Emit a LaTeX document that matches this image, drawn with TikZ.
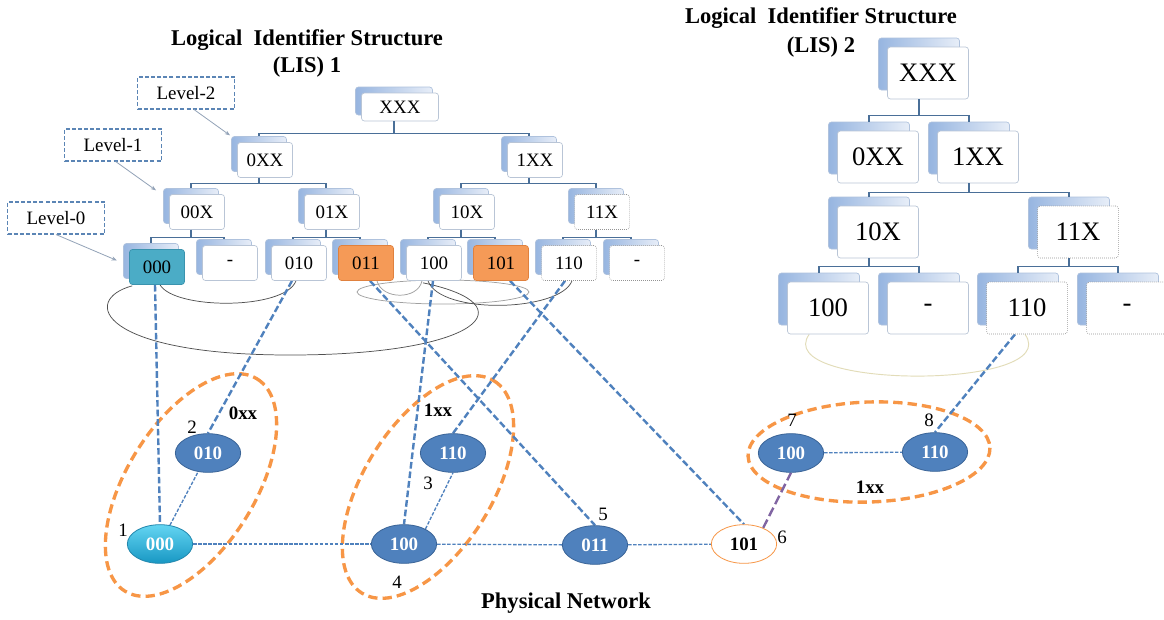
\documentclass[tikz,border=0pt]{standalone}
\usepackage{fontspec}
\setmainfont{Liberation Serif}
\usetikzlibrary{calc,shapes.geometric,arrows.meta,backgrounds}

\definecolor{cardedge}{HTML}{B9C5D6}
\definecolor{cardbackedge}{HTML}{AFC2DD}
\definecolor{cardback}{HTML}{97B5E0}
\definecolor{cardbackhi}{HTML}{E8EEF8}
\definecolor{treeblue}{HTML}{4A6F98}
\definecolor{linkblue}{HTML}{4F81BD}
\definecolor{nodeblue}{HTML}{4F81BD}
\definecolor{nodeedge}{HTML}{3A6497}
\definecolor{grouporange}{HTML}{F79646}
\definecolor{tealbox}{HTML}{4BACC6}
\definecolor{tealedge}{HTML}{3A93AE}
\definecolor{orangebox}{HTML}{F59A57}
\definecolor{orangeedge}{HTML}{E0813E}
\definecolor{purplelink}{HTML}{8064A2}
\definecolor{levelgray}{HTML}{93A3B8}
\definecolor{leveledge}{HTML}{5B85B5}
\definecolor{ringdark}{HTML}{505050}
\definecolor{ringlight}{HTML}{A0A0A0}
\definecolor{ringtan}{HTML}{E2DCB8}
\definecolor{cyantop}{HTML}{63D5F2}
\definecolor{cyanbot}{HTML}{1897C3}
\definecolor{cyanedge}{HTML}{2387AD}

\newcommand{\cardfont}{\fontsize{14.2pt}{16pt}\selectfont}
\newcommand{\bigcardfont}{\fontsize{20pt}{22pt}\selectfont}
\newcommand{\headfont}{\fontsize{16.9pt}{19pt}\selectfont\bfseries}

\tikzset{
  card/.style={rectangle, rounded corners=2.2pt, inner sep=0pt, line width=0.5pt},
  frontcard/.style={card, draw=cardedge, fill=white},
  backcard/.style={card, draw=cardbackedge, left color=cardback, right color=cardbackhi},
  dotcard/.style={draw=gray!85, densely dotted},
  tealcard/.style={fill=tealbox, draw=tealedge},
  orangecard/.style={fill=orangebox, draw=orangeedge},
  cardS/.style={minimum width=41.25pt, minimum height=26.25pt, font=\cardfont},
  cardS back/.style={xshift=-4.5pt, yshift=4.5pt},
  cardX/.style={minimum width=57.75pt, minimum height=21pt, font=\cardfont},
  cardX back/.style={xshift=-4.5pt, yshift=4.5pt},
  cardL/.style={minimum width=60.75pt, minimum height=39pt, font=\bigcardfont},
  cardL back/.style={xshift=-6.75pt, yshift=6.75pt},
  treeline/.style={draw=treeblue, line width=0.9pt},
  levelbox/.style={rectangle, draw=leveledge, line width=0.8pt, dash pattern=on 3pt off 1.6pt,
    minimum width=72.75pt, minimum height=24pt, inner sep=0pt, font=\cardfont},
  levelarrow/.style={draw=levelgray, line width=0.6pt, -{Stealth[length=4pt,width=3pt]}, shorten >=1pt},
  ringline/.style={draw=ringdark, line width=0.55pt},
  ringpale/.style={draw=ringlight, line width=0.55pt},
  groupline/.style={draw=grouporange, line width=2.5pt, dash pattern=on 7pt off 3.8pt},
  maplink/.style={draw=linkblue, line width=1.8pt, dash pattern=on 5pt off 2.2pt},
  physlink/.style={draw=linkblue, line width=1pt, dash pattern=on 2.6pt off 1.2pt},
  purplink/.style={draw=purplelink, line width=1.8pt, dash pattern=on 7pt off 3pt},
  physnode/.style={ellipse, minimum width=49pt, minimum height=29pt, inner sep=0pt,
    fill=nodeblue, draw=nodeedge, line width=0.6pt, text=white, font=\cardfont\bfseries},
  tag/.style={inner sep=0pt, font=\cardfont},
  boldtag/.style={inner sep=0pt, font=\cardfont\bfseries},
  heading/.style={inner sep=0pt, font=\headfont, align=center},
}

% a stacked card: a shaded card behind, a plain card in front
\newcommand{\idcard}[5][]{%
  \node[backcard,#2,#2 back] (#3b) at (#4) {};
  \node[frontcard,#2,#1] (#3) at (#4) {#5};}
% org-chart connector from a parent card down to a child card
\newcommand{\treeedge}[3]{\draw[treeline] (#1b.south |- #1.south) -- ++(0,#3) -| (#2b.north);}

\begin{document}
\begin{tikzpicture}[x=0.75pt,y=-0.75pt]
\useasboundingbox (0,0) rectangle (1164,619);

% ---------- headings ----------
\node[heading] (t1a) at (307,40) {Logical~ Identifier Structure};
\node[heading] (t1b) at (307,67) {(LIS) 1};
\node[heading] (t2a) at (821,18) {Logical~ Identifier Structure};
\node[heading] (t2b) at (821,47) {(LIS) 2};
\node[heading] (pn) at (566,603) {Physical Network};

% ---------- LIS 1 ----------
\idcard[]{cardX}{aXXX}{400,107}{XXX}
\idcard[]{cardS}{a0XX}{265,160}{0XX}
\idcard[]{cardS}{a1XX}{535,160}{1XX}
\idcard[]{cardS}{a00X}{197,212}{00X}
\idcard[]{cardS}{a01X}{332,212}{01X}
\idcard[]{cardS}{a10X}{467,212}{10X}
\idcard[dotcard]{cardS}{a11X}{602,212}{11X}
\idcard[tealcard]{cardS}{a000}{157,267}{000}
\idcard[]{cardS}{aDa}{230,263}{-}
\idcard[]{cardS}{a010}{299,263}{010}
\idcard[orangecard]{cardS}{a011}{366,263}{011}
\idcard[]{cardS}{a100}{434,263}{100}
\idcard[orangecard]{cardS}{a101}{501,263}{101}
\idcard[dotcard]{cardS}{a110}{569,263}{110}
\idcard[dotcard]{cardS}{aDb}{637,263}{-}

\treeedge{aXXX}{a0XX}{12}
\treeedge{aXXX}{a1XX}{12}
\treeedge{a0XX}{a00X}{6}
\treeedge{a0XX}{a01X}{6}
\treeedge{a1XX}{a10X}{6}
\treeedge{a1XX}{a11X}{6}
\treeedge{a00X}{a000}{8}
\treeedge{a00X}{aDa}{8}
\treeedge{a01X}{a010}{8}
\treeedge{a01X}{a011}{8}
\treeedge{a10X}{a100}{8}
\treeedge{a10X}{a101}{8}
\treeedge{a11X}{a110}{8}
\treeedge{a11X}{aDb}{8}

% level markers
\node[levelbox] (lv2) at (186,93) {Level-2};
\node[levelbox] (lv1) at (113,145) {Level-1};
\node[levelbox] (lv0) at (56,218) {Level-0};
\draw[levelarrow] ([xshift=6pt]lv2.south) -- (a0XXb.north west);
\draw[levelarrow] ([xshift=2pt]lv1.south) -- ($(a00Xb.north west)+(-6,3)$);
\draw[levelarrow] (lv0.south) -- ($(a000b.west)+(-5,0)$);

% ---------- LIS 2 ----------
\idcard[]{cardL}{rXXX}{928,73}{XXX}
\idcard[]{cardL}{r0XX}{878,157}{0XX}
\idcard[]{cardL}{r1XX}{978,157}{1XX}
\idcard[]{cardL}{r10X}{878,232}{10X}
\idcard[dotcard]{cardL}{r11X}{1078,232}{11X}
\idcard[]{cardL}{r100}{828,308}{100}
\idcard[]{cardL}{rDa}{928,308}{-}
\idcard[dotcard]{cardL}{r110}{1027,308}{110}
\idcard[dotcard]{cardL}{rDb}{1127,308}{-}

\treeedge{rXXX}{r0XX}{16}
\treeedge{rXXX}{r1XX}{16}
\treeedge{r1XX}{r10X}{9}
\treeedge{r1XX}{r11X}{9}
\treeedge{r10X}{r100}{8}
\treeedge{r10X}{rDa}{8}
\treeedge{r11X}{r110}{8}
\treeedge{r11X}{rDb}{8}

% ---------- physical network ----------
\node[physnode, fill=none, top color=cyantop, bottom color=cyanbot, draw=cyanedge] (P000) at (160,544) {000};
\node[physnode] (P010) at (208,453) {010};
\node[physnode] (P100) at (404,544) {100};
\node[physnode] (P110) at (453,453) {110};
\node[physnode] (P011) at (595,545) {011};
\node[physnode, fill=white, draw=grouporange, text=black] (P101) at (744,544) {101};
\node[physnode] (Q100) at (791,453) {100};
\node[physnode] (Q110) at (935,452) {110};

\node[tag] (n1) at (123,530) {1};
\node[tag] (n2) at (192,427) {2};
\node[tag] (n3) at (428,483) {3};
\node[tag] (n4) at (397,582) {4};
\node[tag] (n5) at (603,514) {5};
\node[tag] (n6) at (782,537) {6};
\node[tag] (n7) at (792,420) {7};
\node[tag] (n8) at (929,420) {8};
\node[boldtag] (g1) at (243,413) {0xx};
\node[boldtag] (g2) at (438,410) {1xx};
\node[boldtag] (g3) at (870,487) {1xx};

\begin{pgfonlayer}{background}
  \fill[white] (0,0) rectangle (1164,619);
  % neighbour rings under the leaf cards
  \draw[ringpale] (443,292) ellipse [x radius=86, y radius=12];
  \draw[ringline] ($(a000.south west)+(3,1)$) .. controls (80,300) and (100,355) .. (290,355)
                  .. controls (480,355) and (530,305) .. ($(a100.south)+(-11,2)$);
  \draw[ringline] ($(a000.south)+(3,0)$) .. controls (175,310) and (285,310) .. ($(a010.south)+(-3,0)$);
  \draw[ringpale] ($(a011.south)+(11,0)$) .. controls (382,300) and (418,300) .. ($(a100.south)+(-12,0)$);
  \draw[ringline] ($(a100.south)+(-6,0)$) .. controls (440,315) and (560,312) .. ($(a110.south)+(3,0)$);
  \draw[draw=ringtan, line width=0.7pt] ($(r100.south west)+(22,0)$) .. controls (770,390) and (1065,390) .. ($(r110.south)+(-2,0)$);
  % clusters
  \draw[groupline, rotate around={58:(191,485)}] (191,485) ellipse [x radius=125, y radius=64];
  \draw[groupline, rotate around={58:(428,487)}] (428,487) ellipse [x radius=125, y radius=64];
  \draw[groupline, rotate around={2:(869,452)}] (869,452) ellipse [x radius=121, y radius=50];
  % identifier-to-host mappings
  \draw[maplink] ($(a000.south)+(-2,0)$) -- (P000.north);
  \draw[maplink] ($(a010.south)+(-7,0)$) -- (P010.north);
  \draw[maplink] ($(a011.south)+(4,0)$) -- (P011.north);
  \draw[maplink] ($(a100.south)+(-1,0)$) -- (P100.north);
  \draw[maplink] ($(a101.south)+(9,0)$) -- (P101.north);
  \draw[maplink] ($(a110.south)+(-4,0)$) -- (P110.north);
  \draw[maplink] ($(r110.south)+(-12,0)$) -- (Q110.north);
  % physical links
  \draw[physlink] (P000) -- (P010);
  \draw[physlink] (P000) -- (P100);
  \draw[physlink] (P100.35) -- (P110.south);
  \draw[physlink] (P100) -- (P011);
  \draw[physlink] (P011) -- (P101);
  \draw[physlink] (Q100) -- (Q110);
  \draw[purplink] (P101.40) -- (Q100.south);
\end{pgfonlayer}
\end{tikzpicture}
\end{document}
